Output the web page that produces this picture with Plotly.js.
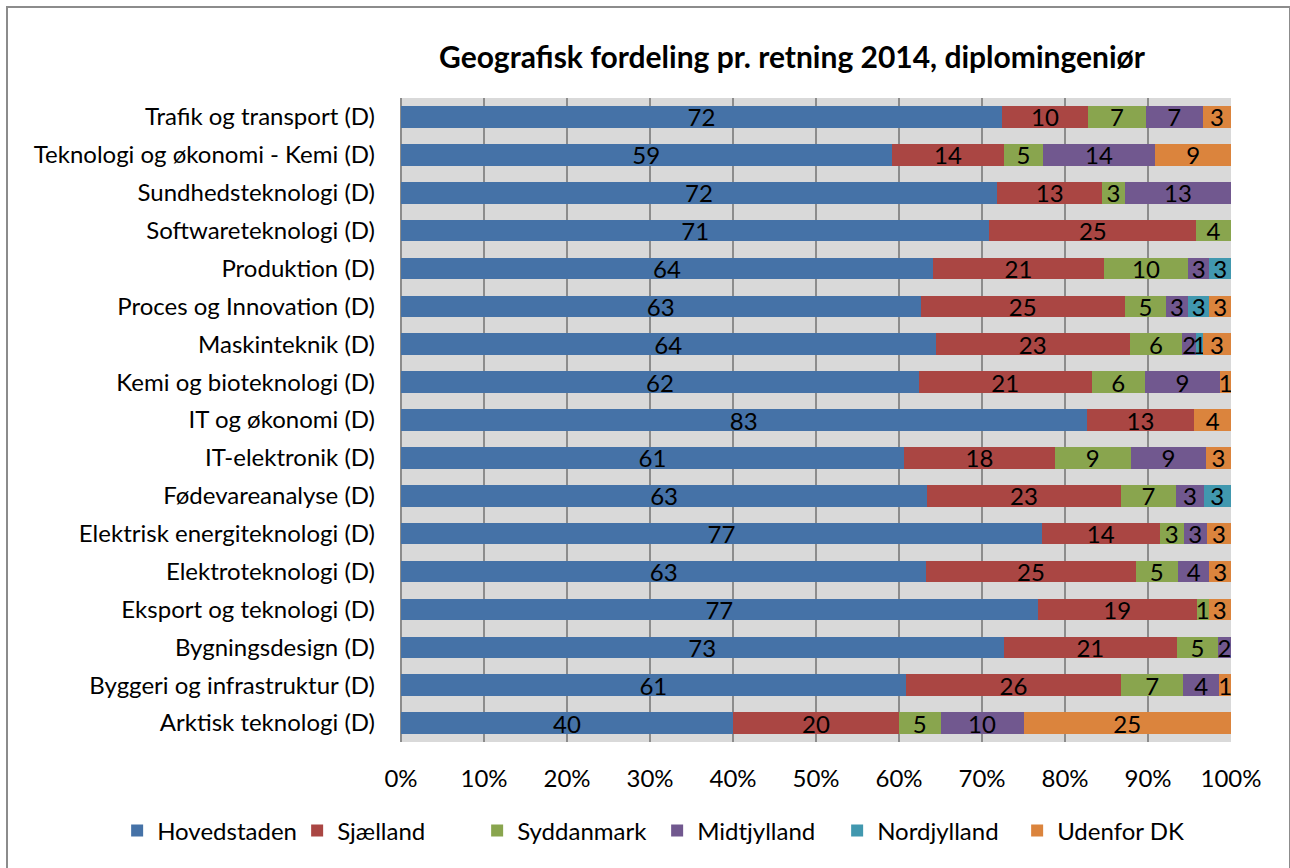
<!DOCTYPE html>
<html>
<head>
<meta charset="utf-8">
<script src="https://cdn.plot.ly/plotly-3.0.1.min.js"></script>
<style>
  body { margin: 0; background: #fff; }
  #chart { position: absolute; left: 0; top: 0; width: 1290px; height: 868px; }
  #frame { position: absolute; left: 6px; top: 6px; width: 1281px; height: 880px;
           border: 2px solid #8c8c8c; pointer-events: none; }
</style>
</head>
<body>
<div id="chart"></div>
<div id="frame"></div>
<script>
// Retninger, top to bottom as in the chart
var retninger = [
    'Trafik og transport (D)',
    'Teknologi og økonomi - Kemi (D)',
    'Sundhedsteknologi (D)',
    'Softwareteknologi (D)',
    'Produktion (D)',
    'Proces og Innovation (D)',
    'Maskinteknik (D)',
    'Kemi og bioteknologi (D)',
    'IT og økonomi (D)',
    'IT-elektronik (D)',
    'Fødevareanalyse (D)',
    'Elektrisk energiteknologi (D)',
    'Elektroteknologi (D)',
    'Eksport og teknologi (D)',
    'Bygningsdesign (D)',
    'Byggeri og infrastruktur (D)',
    'Arktisk teknologi (D)'
];

// percent per region (null = no segment)
var hovedstaden = [72.4, 59.1, 71.8, 70.9, 64.1, 62.6, 64.4, 62.4, 82.6, 60.6, 63.4, 77.2, 63.3, 76.7, 72.6, 60.8, 40];
var sjaelland   = [10.4, 13.6, 12.7, 24.9, 20.6, 24.6, 23.4, 20.8, 13.0, 18.2, 23.3, 14.2, 25.2, 19.2, 20.9, 26.0, 20];
var syddanmark  = [6.9, 4.6, 2.7, 4.2, 10.1, 5.0, 6.3, 6.4, null, 9.1, 6.7, 2.9, 5.1, 1.4, 4.9, 7.4, 5];
var midtjylland = [6.9, 13.6, 12.8, null, 2.6, 2.6, 1.7, 9.1, null, 9.1, 3.3, 2.8, 3.8, null, 1.6, 4.4, 10];
var nordjylland = [null, null, null, null, 2.6, 2.6, 0.8, null, null, null, 3.3, null, null, null, null, null, null];
var udenforDK   = [3.4, 9.1, null, null, null, 2.6, 3.4, 1.3, 4.4, 3.0, null, 2.9, 2.6, 2.7, null, 1.4, 25];

var regioner = ['Hovedstaden', 'Sjælland', 'Syddanmark', 'Midtjylland', 'Nordjylland', 'Udenfor DK'];
var farver = ['#4572A7', '#AA4643', '#89A54E', '#71588F', '#4198AF', '#DB843D'];
var serier = [hovedstaden, sjaelland, syddanmark, midtjylland, nordjylland, udenforDK];

var fontFamily = 'Lato, "Open Sans", sans-serif';

var traces = serier.map(function (values, i) {
    return {
        type: 'bar',
        orientation: 'h',
        name: regioner[i],
        y: retninger,
        x: values,
        marker: { color: farver[i], line: { width: 0 } },
        texttemplate: '%{x:.0f}',
        textposition: 'inside',
        textangle: 0,
        insidetextanchor: 'middle',
        textfont: { family: fontFamily, size: 24, color: '#000' },
        hoverinfo: 'name+x'
    };
});

var tickVals = [0, 10, 20, 30, 40, 50, 60, 70, 80, 90, 100];

var layout = {
    width: 1290,
    height: 868,
    barmode: 'stack',
    bargap: 0.43,
    paper_bgcolor: '#ffffff',
    plot_bgcolor: '#d9d9d9',
    font: { family: fontFamily, size: 24, color: '#000' },
    title: {
        text: '<b>Geografisk fordeling pr. retning 2014, diplomingeniør</b>',
        font: { family: fontFamily, size: 30, color: '#000' },
        x: 0.614,
        xanchor: 'center',
        y: 0.934,
        yanchor: 'middle'
    },
    margin: { l: 401, r: 59, t: 98, b: 126 },
    uniformtext: { mode: 'show', minsize: 24 },
    xaxis: {
        range: [0, 100],
        tickvals: tickVals,
        ticktext: tickVals.map(function (v) { return v + '%'; }),
        ticks: '',
        ticklabelstandoff: 20,
        tickfont: { family: fontFamily, size: 24, color: '#000' },
        showgrid: true,
        gridcolor: '#8c8c8c',
        gridwidth: 1.5,
        zeroline: true,
        zerolinecolor: '#8c8c8c',
        zerolinewidth: 1.5,
        showline: false,
        fixedrange: true
    },
    yaxis: {
        autorange: 'reversed',
        ticks: '',
        ticklabelstandoff: 25,
        tickfont: { family: fontFamily, size: 24, color: '#000' },
        showgrid: false,
        showline: false,
        fixedrange: true
    },
    legend: {
        orientation: 'h',
        x: -0.342,
        xanchor: 'left',
        y: -0.138,
        yanchor: 'middle',
        traceorder: 'normal',
        entrywidth: 135,
        entrywidthmode: 'pixels',
        font: { family: fontFamily, size: 24, color: '#000' }
    },
    showlegend: true
};

Plotly.newPlot('chart', traces, layout, { displayModeBar: false, staticPlot: true });
</script>
</body>
</html>
